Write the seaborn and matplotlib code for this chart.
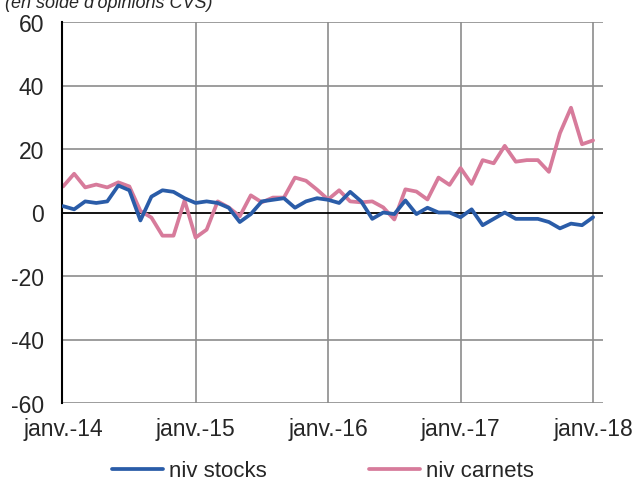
import numpy as np
import pandas as pd
import matplotlib
matplotlib.use("Agg")
import matplotlib.pyplot as plt
import seaborn as sns

# ---- data (monthly, janv.-14 .. janv.-18) ---- #
niv_stocks = [2, 1, 3.5, 3, 3.5, 8.5, 7, -2.5, 5, 7, 6.5, 4.5,
              3, 3.5, 3, 1.5, -3, -0.5, 3.5, 4, 4.5, 1.5, 3.5, 4.5,
              4, 3, 6.5, 3.5, -2, 0, -0.5, 3.8, -0.5, 1.5, 0, 0,
              -1.5, 1, -4, -2, 0, -2, -2, -2, -3, -5, -3.5, -4,
              -1.5]
niv_carnets = [8.2, 12.2, 7.9, 8.8, 7.9, 9.5, 8.2, 0.5, -1.6, -7.3, -7.3, 3.8,
               -7.9, -5.4, 3.5, 1.6, -1.2, 5.4, 3.2, 4.7, 4.7, 11, 10, 7.2,
               4.1, 7, 3.5, 3.2, 3.5, 1.6, -2.2, 7.3, 6.6, 4.1, 11, 8.7,
               14, 9, 16.5, 15.5, 21, 16, 16.5, 16.5, 12.8, 25, 33, 21.5,
               22.7]
year_ticks = [0, 12, 24, 36, 48]
year_labels = ['janv.-14', 'janv.-15', 'janv.-16', 'janv.-17', 'janv.-18']
y_ticks = [-60, -40, -20, 0, 20, 40, 60]

months = np.arange(len(niv_stocks))
df = pd.DataFrame({'mois': months, 'niv stocks': niv_stocks, 'niv carnets': niv_carnets})

sns.set_style("white")
plt.rcParams['font.family'] = ['Liberation Sans', 'DejaVu Sans']
plt.rcParams['axes.unicode_minus'] = False

fig = plt.figure(figsize=(6.37, 4.81), dpi=100)
ax = fig.add_axes([62 / 637, 1 - 404 / 481, 541 / 637, 381 / 481])

grid_col = '#8c8c8c'
for v in year_ticks[1:]:
    ax.axvline(v, color=grid_col, lw=1.2, zorder=0)
for v in y_ticks:
    if v != 0:
        ax.axhline(v, color=grid_col, lw=1.2, zorder=0)
ax.axhline(0, color='black', lw=1.3, zorder=1)

sns.lineplot(data=df, x='mois', y='niv stocks', color='#2a5ca8', lw=2.7,
             label='niv stocks', ax=ax, zorder=3)
sns.lineplot(data=df, x='mois', y='niv carnets', color='#d77b9b', lw=2.7,
             label='niv carnets', ax=ax, zorder=2)

ax.set_xlim(-0.1, 48.9)
ax.set_ylim(-60, 60)
ax.set_xticks(year_ticks)
ax.set_xticklabels(year_labels)
ax.set_yticks(y_ticks)
ax.set_xlabel('')
ax.set_ylabel('')
ax.tick_params(axis='both', length=0, labelsize=16.5)
ax.tick_params(axis='y', pad=13)
ax.tick_params(axis='x', pad=10)

for side in ['top', 'right', 'bottom']:
    ax.spines[side].set_visible(False)
ax.spines['left'].set_color('black')
ax.spines['left'].set_linewidth(1.5)

ax.get_legend().remove()
handles, labels = ax.get_legend_handles_labels()
fig.legend(handles, labels, loc='center', bbox_to_anchor=(0.507, 0.019), ncol=2,
           frameon=False, fontsize=16, handlelength=2.3, handletextpad=0.25,
           columnspacing=4.6)

fig.text(5 / 637, 1 - 8 / 481, "(en solde d'opinions CVS)", fontsize=13,
         style='italic', va='baseline', ha='left')

fig.savefig('out.png', dpi=100)
